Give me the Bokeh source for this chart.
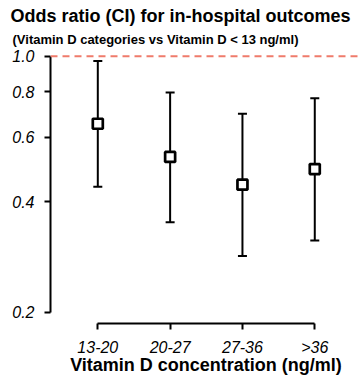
from bokeh.plotting import figure
from bokeh.models import (ColumnDataSource, Whisker, TeeHead, Span, FixedTicker,
                          PrintfTickFormatter, Range1d, Title, LinearAxis)
from bokeh.embed import file_html
from bokeh.resources import INLINE

# ---- data ----
categories = ["13-20", "20-27", "27-36", ">36"]
odds_ratio = [0.654, 0.531, 0.446, 0.492]
ci_lower = [0.440, 0.352, 0.285, 0.314]
ci_upper = [0.971, 0.796, 0.697, 0.768]
y_ticks = [0.2, 0.4, 0.6, 0.8, 1.0]
reference_value = 1.0

title_text = "Odds ratio (CI) for in-hospital outcomes"
subtitle_text = "(Vitamin D categories vs Vitamin D < 13 ng/ml)"
x_label = "Vitamin D concentration (ng/ml)"

FONT = "Liberation Sans"
x_pos = list(range(len(categories)))
src = ColumnDataSource(dict(x=x_pos, y=odds_ratio, lower=ci_lower, upper=ci_upper))

p = figure(width=361, height=383, y_axis_type="log",
           x_range=Range1d(-0.654, 3.646), y_range=Range1d(0.1863, 1.0563),
           output_backend="svg", toolbar_location=None, title=None,
           min_border_left=50, min_border_right=0, min_border_top=0,
           min_border_bottom=60)

# empty spacer axis between subtitle and plot frame (no ticks, no labels)
spacer = LinearAxis(ticker=FixedTicker(ticks=[]), axis_line_color=None,
                    major_tick_out=12, major_tick_in=0, major_tick_line_color=None,
                    minor_tick_line_color=None, major_label_standoff=0,
                    axis_label_standoff=0, major_label_text_font_size="1px")
p.add_layout(spacer, "above")
p.add_layout(Title(text=subtitle_text, text_font=FONT, text_font_size="13px",
                   text_font_style="bold", text_color="black", align="left",
                   offset=-38, standoff=2), "above")
p.add_layout(Title(text=title_text, text_font=FONT, text_font_size="18px",
                   text_font_style="bold", text_color="black", align="left",
                   offset=-40, standoff=6), "above")

p.grid.visible = False
p.outline_line_color = None
p.background_fill_color = "white"
p.border_fill_color = "white"

# reference line
p.add_layout(Span(location=reference_value, dimension="width", line_color="#ef7b6b",
                  line_width=2, line_dash="7 5"))

# error bars
w = Whisker(source=src, base="x", lower="lower", upper="upper", dimension="height",
            line_color="black", line_width=2, level="underlay",
            lower_head=TeeHead(size=9, line_width=2, line_color="black"),
            upper_head=TeeHead(size=9, line_width=2, line_color="black"))
p.add_layout(w)

p.scatter("x", "y", source=src, marker="square", size=10, fill_color="white",
          line_color="black", line_width=2.7)

# axes
xa = p.below[0]
xa.ticker = FixedTicker(ticks=x_pos)
xa.major_label_overrides = {i: c for i, c in zip(x_pos, categories)}
xa.bounds = (x_pos[0], x_pos[-1])
ya = p.left[0]
ya.ticker = FixedTicker(ticks=y_ticks)
ya.formatter = PrintfTickFormatter(format="%.1f")
ya.bounds = (y_ticks[0], y_ticks[-1])

for ax in (xa, ya):
    ax.axis_line_width = 2
    ax.axis_line_color = "black"
    ax.major_tick_line_width = 2
    ax.major_tick_line_color = "black"
    ax.major_tick_out = 6
    ax.major_tick_in = 0
    ax.minor_tick_line_color = None
    ax.major_label_text_font = FONT
    ax.major_label_text_font_size = "16px"
    ax.major_label_text_font_style = "italic"
    ax.major_label_text_color = "black"

xa.major_label_standoff = 9
ya.major_label_standoff = 10
xa.axis_label = x_label
xa.axis_label_text_font = FONT
xa.axis_label_text_font_size = "18px"
xa.axis_label_text_font_style = "bold"
xa.axis_label_text_color = "black"
xa.axis_label_standoff = -4

open("out.html", "w").write(file_html(p, INLINE))
